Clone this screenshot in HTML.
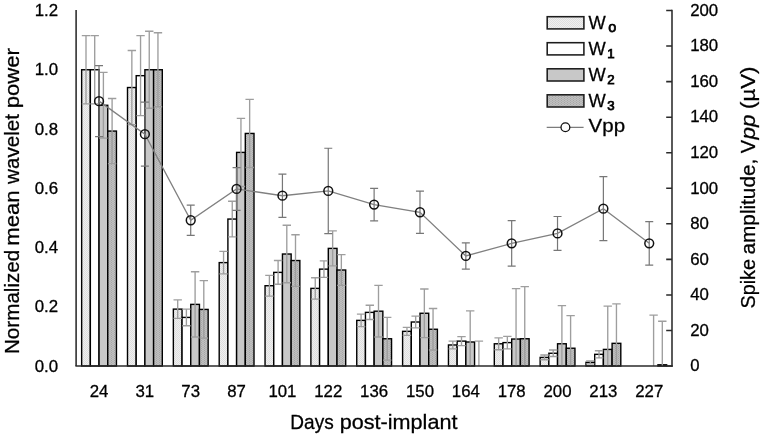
<!DOCTYPE html>
<html lang="en"><head><meta charset="utf-8"><title>Wavelet power and spike amplitude</title>
<style>
html,body{margin:0;padding:0;background:#fff}
body{width:762px;height:434px;overflow:hidden}
svg{display:block;font-family:"Liberation Sans",sans-serif;fill:#000}
text{stroke:#000;stroke-width:0.28px;paint-order:stroke fill}
</style></head><body>
<svg width="762" height="434" viewBox="0 0 762 434">
<defs>
<pattern id="p0" width="2" height="2" patternUnits="userSpaceOnUse"><rect width="2" height="2" fill="#efefef"/><rect width="1" height="1" fill="#dedede"/><rect x="1" y="1" width="1" height="1" fill="#dedede"/></pattern>
<pattern id="p3" width="3" height="2" patternUnits="userSpaceOnUse"><rect width="3" height="2" fill="#bfbfbf"/><rect width="1" height="1" fill="#a6a6a6"/><rect x="1.5" y="1" width="1" height="1" fill="#aaaaaa"/></pattern>
</defs>
<rect width="762" height="434" fill="#fff"/>
<g stroke="#000" stroke-width="1.4">
<rect x="81.65" y="69.75" width="8.70" height="296.25" fill="url(#p0)"/>
<rect x="90.35" y="69.75" width="8.70" height="296.25" fill="#ffffff"/>
<rect x="99.05" y="105.30" width="8.70" height="260.70" fill="#c8c8c8"/>
<rect x="107.75" y="131.07" width="8.70" height="234.93" fill="url(#p3)"/>
<rect x="127.50" y="87.53" width="8.70" height="278.47" fill="url(#p0)"/>
<rect x="136.20" y="75.68" width="8.70" height="290.32" fill="#ffffff"/>
<rect x="144.90" y="69.75" width="8.70" height="296.25" fill="#c8c8c8"/>
<rect x="153.60" y="69.75" width="8.70" height="296.25" fill="url(#p3)"/>
<rect x="173.35" y="309.12" width="8.70" height="56.88" fill="url(#p0)"/>
<rect x="182.05" y="317.42" width="8.70" height="48.59" fill="#ffffff"/>
<rect x="190.75" y="304.38" width="8.70" height="61.62" fill="#c8c8c8"/>
<rect x="199.45" y="309.42" width="8.70" height="56.58" fill="url(#p3)"/>
<rect x="219.20" y="262.61" width="8.70" height="103.39" fill="url(#p0)"/>
<rect x="227.90" y="219.06" width="8.70" height="146.94" fill="#ffffff"/>
<rect x="236.60" y="152.40" width="8.70" height="213.60" fill="#c8c8c8"/>
<rect x="245.30" y="133.44" width="8.70" height="232.56" fill="url(#p3)"/>
<rect x="265.05" y="285.72" width="8.70" height="80.28" fill="url(#p0)"/>
<rect x="273.75" y="272.38" width="8.70" height="93.61" fill="#ffffff"/>
<rect x="282.45" y="254.02" width="8.70" height="111.98" fill="#c8c8c8"/>
<rect x="291.15" y="260.54" width="8.70" height="105.46" fill="url(#p3)"/>
<rect x="310.90" y="288.38" width="8.70" height="77.62" fill="url(#p0)"/>
<rect x="319.60" y="269.13" width="8.70" height="96.87" fill="#ffffff"/>
<rect x="328.30" y="248.39" width="8.70" height="117.61" fill="#c8c8c8"/>
<rect x="337.00" y="270.01" width="8.70" height="95.98" fill="url(#p3)"/>
<rect x="356.75" y="320.38" width="8.70" height="45.62" fill="url(#p0)"/>
<rect x="365.45" y="312.38" width="8.70" height="53.62" fill="#ffffff"/>
<rect x="374.15" y="311.19" width="8.70" height="54.81" fill="#c8c8c8"/>
<rect x="382.85" y="338.75" width="8.70" height="27.25" fill="url(#p3)"/>
<rect x="402.60" y="331.34" width="8.70" height="34.66" fill="url(#p0)"/>
<rect x="411.30" y="322.01" width="8.70" height="43.99" fill="#ffffff"/>
<rect x="420.00" y="313.27" width="8.70" height="52.73" fill="#c8c8c8"/>
<rect x="428.70" y="329.26" width="8.70" height="36.73" fill="url(#p3)"/>
<rect x="448.45" y="344.97" width="8.70" height="21.03" fill="url(#p0)"/>
<rect x="457.15" y="341.12" width="8.70" height="24.89" fill="#ffffff"/>
<rect x="465.85" y="342.00" width="8.70" height="24.00" fill="#c8c8c8"/>
<rect x="494.30" y="343.78" width="8.70" height="22.22" fill="url(#p0)"/>
<rect x="503.00" y="342.60" width="8.70" height="23.40" fill="#ffffff"/>
<rect x="511.70" y="339.04" width="8.70" height="26.96" fill="#c8c8c8"/>
<rect x="520.40" y="338.75" width="8.70" height="27.25" fill="url(#p3)"/>
<rect x="540.15" y="357.41" width="8.70" height="8.59" fill="url(#p0)"/>
<rect x="548.85" y="353.26" width="8.70" height="12.74" fill="#ffffff"/>
<rect x="557.55" y="343.78" width="8.70" height="22.22" fill="#c8c8c8"/>
<rect x="566.25" y="348.23" width="8.70" height="17.77" fill="url(#p3)"/>
<rect x="586.00" y="362.33" width="8.70" height="3.67" fill="url(#p0)"/>
<rect x="594.70" y="354.33" width="8.70" height="11.67" fill="#ffffff"/>
<rect x="603.40" y="349.41" width="8.70" height="16.59" fill="#c8c8c8"/>
<rect x="612.10" y="343.34" width="8.70" height="22.66" fill="url(#p3)"/>
<rect x="657.95" y="364.81" width="8.70" height="1.19" fill="url(#p3)"/>
</g>
<g stroke="#9e9e9e" stroke-width="1.35" fill="none">
<path d="M86.00 35.68V103.82M81.80 35.68h8.4M81.80 103.82h8.4"/>
<path d="M94.70 35.68V103.82M90.50 35.68h8.4M90.50 103.82h8.4"/>
<path d="M103.40 72.42V138.18M99.20 72.42h8.4M99.20 138.18h8.4"/>
<path d="M112.10 98.49V163.66M107.90 98.49h8.4M107.90 163.66h8.4"/>
<path d="M131.85 50.49V124.56M127.65 50.49h8.4M127.65 124.56h8.4"/>
<path d="M140.55 35.68V115.67M136.35 35.68h8.4M136.35 115.67h8.4"/>
<path d="M149.25 31.24V108.26M145.05 31.24h8.4M145.05 108.26h8.4"/>
<path d="M157.95 32.72V106.78M153.75 32.72h8.4M153.75 106.78h8.4"/>
<path d="M177.70 299.94V318.30M173.50 299.94h8.4M173.50 318.30h8.4"/>
<path d="M186.40 309.12V325.71M182.20 309.12h8.4M182.20 325.71h8.4"/>
<path d="M195.10 271.79V336.97M190.90 271.79h8.4M190.90 336.97h8.4"/>
<path d="M203.80 280.68V338.15M199.60 280.68h8.4M199.60 338.15h8.4"/>
<path d="M223.55 251.35V273.87M219.35 251.35h8.4M219.35 273.87h8.4"/>
<path d="M232.25 201.28V236.84M228.05 201.28h8.4M228.05 236.84h8.4"/>
<path d="M240.95 118.34V186.47M236.75 118.34h8.4M236.75 186.47h8.4"/>
<path d="M249.65 99.38V167.51M245.45 99.38h8.4M245.45 167.51h8.4"/>
<path d="M269.40 275.35V296.08M265.20 275.35h8.4M265.20 296.08h8.4"/>
<path d="M278.10 260.54V284.24M273.90 260.54h8.4M273.90 284.24h8.4"/>
<path d="M286.80 225.28V282.75M282.60 225.28h8.4M282.60 282.75h8.4"/>
<path d="M295.50 234.76V286.31M291.30 234.76h8.4M291.30 286.31h8.4"/>
<path d="M315.25 277.72V299.05M311.05 277.72h8.4M311.05 299.05h8.4"/>
<path d="M323.95 260.83V277.42M319.75 260.83h8.4M319.75 277.42h8.4"/>
<path d="M332.65 230.91V265.87M328.45 230.91h8.4M328.45 265.87h8.4"/>
<path d="M341.35 254.61V285.42M337.15 254.61h8.4M337.15 285.42h8.4"/>
<path d="M361.10 314.16V326.60M356.90 314.16h8.4M356.90 326.60h8.4"/>
<path d="M369.80 305.27V319.49M365.60 305.27h8.4M365.60 319.49h8.4"/>
<path d="M378.50 285.42V336.97M374.30 285.42h8.4M374.30 336.97h8.4"/>
<path d="M387.20 317.42V360.07M383.00 317.42h8.4M383.00 360.07h8.4"/>
<path d="M406.95 327.34V335.34M402.75 327.34h8.4M402.75 335.34h8.4"/>
<path d="M415.65 316.08V327.93M411.45 316.08h8.4M411.45 327.93h8.4"/>
<path d="M424.35 288.98V337.56M420.15 288.98h8.4M420.15 337.56h8.4"/>
<path d="M433.05 308.53V350.00M428.85 308.53h8.4M428.85 350.00h8.4"/>
<path d="M452.80 341.12V348.82M448.60 341.12h8.4M448.60 348.82h8.4"/>
<path d="M461.50 336.67V345.56M457.30 336.67h8.4M457.30 345.56h8.4"/>
<path d="M470.20 310.90V366.00M466.00 310.90h8.4"/>
<path d="M478.90 341.12V366.00M474.70 341.12h8.4"/>
<path d="M498.65 337.86V349.71M494.45 337.86h8.4M494.45 349.71h8.4"/>
<path d="M507.35 336.38V348.82M503.15 336.38h8.4M503.15 348.82h8.4"/>
<path d="M516.05 288.68V366.00M511.85 288.68h8.4"/>
<path d="M524.75 286.61V366.00M520.55 286.61h8.4"/>
<path d="M544.50 355.04V359.78M540.30 355.04h8.4M540.30 359.78h8.4"/>
<path d="M553.20 350.00V356.52M549.00 350.00h8.4M549.00 356.52h8.4"/>
<path d="M561.90 305.56V366.00M557.70 305.56h8.4"/>
<path d="M570.60 315.64V366.00M566.40 315.64h8.4"/>
<path d="M590.35 360.85V363.81M586.15 360.85h8.4M586.15 363.81h8.4"/>
<path d="M599.05 350.77V357.88M594.85 350.77h8.4M594.85 357.88h8.4"/>
<path d="M607.75 306.16V366.00M603.55 306.16h8.4"/>
<path d="M616.45 303.94V366.00M612.25 303.94h8.4"/>
<path d="M653.60 315.05V366.00M649.40 315.05h8.4"/>
<path d="M662.30 321.27V366.00M658.10 321.27h8.4"/>
</g>
<g stroke="#2a2a2a" stroke-width="1.55" fill="none">
<path d="M76.1 10.0V366.0"/>
<path d="M75.39999999999999 366.0H672.9"/>
<path d="M672.0 9.75V366.75"/>
<path d="M666.2 366.00H672.0M666.2 330.45H672.0M666.2 294.90H672.0M666.2 259.35H672.0M666.2 223.80H672.0M666.2 188.25H672.0M666.2 152.70H672.0M666.2 117.15H672.0M666.2 81.60H672.0M666.2 46.05H672.0M666.2 10.50H672.0"/>
</g>
<g stroke="#777" stroke-width="1.2" fill="none">
<path stroke-width="1.9" d="M98.92 70.35V97.15"/>
<path d="M99.02 65.60V136.70M95.02 65.60h8M95.02 136.70h8"/>
<path d="M144.88 102.22V166.21M140.88 102.22h8M140.88 166.21h8"/>
<path d="M190.72 205.14V235.35M186.72 205.14h8M186.72 235.35h8"/>
<path d="M236.57 167.63V210.29M232.57 167.63h8M232.57 210.29h8"/>
<path d="M282.43 174.03V217.40M278.43 174.03h8M278.43 217.40h8"/>
<path d="M328.27 148.26V233.58M324.27 148.26h8M324.27 233.58h8"/>
<path d="M374.12 188.43V220.78M370.12 188.43h8M370.12 220.78h8"/>
<path d="M419.98 191.09V233.40M415.98 191.09h8M415.98 233.40h8"/>
<path d="M465.83 242.82V269.13M461.83 242.82h8M461.83 269.13h8"/>
<path d="M511.67 220.60V266.10M507.67 220.60h8M507.67 266.10h8"/>
<path d="M557.52 216.51V250.28M553.52 216.51h8M553.52 250.28h8"/>
<path d="M603.38 176.70V240.69M599.38 176.70h8M599.38 240.69h8"/>
<path d="M649.23 221.67V265.04M645.23 221.67h8M645.23 265.04h8"/>
</g>
<polyline fill="none" stroke="#808080" stroke-width="1.3" points="99.02,101.15 144.88,134.21 190.72,220.25 236.57,188.96 282.43,195.72 328.27,190.92 374.12,204.60 419.98,212.25 465.83,255.97 511.67,243.35 557.52,233.40 603.38,208.69 649.23,243.35"/>
<g fill="none" stroke="#111" stroke-width="1.5">
<circle cx="99.02" cy="101.15" r="4.4"/>
<circle cx="144.88" cy="134.21" r="4.4"/>
<circle cx="190.72" cy="220.25" r="4.4"/>
<circle cx="236.57" cy="188.96" r="4.4"/>
<circle cx="282.43" cy="195.72" r="4.4"/>
<circle cx="328.27" cy="190.92" r="4.4"/>
<circle cx="374.12" cy="204.60" r="4.4"/>
<circle cx="419.98" cy="212.25" r="4.4"/>
<circle cx="465.83" cy="255.97" r="4.4"/>
<circle cx="511.67" cy="243.35" r="4.4"/>
<circle cx="557.52" cy="233.40" r="4.4"/>
<circle cx="603.38" cy="208.69" r="4.4"/>
<circle cx="649.23" cy="243.35" r="4.4"/>
</g>
<g font-size="15.8" text-anchor="end">
<text x="58.1" y="371.65" textLength="23.4" lengthAdjust="spacingAndGlyphs">0.0</text>
<text x="58.1" y="312.40" textLength="23.4" lengthAdjust="spacingAndGlyphs">0.2</text>
<text x="58.1" y="253.15" textLength="23.4" lengthAdjust="spacingAndGlyphs">0.4</text>
<text x="58.1" y="193.90" textLength="23.4" lengthAdjust="spacingAndGlyphs">0.6</text>
<text x="58.1" y="134.65" textLength="23.4" lengthAdjust="spacingAndGlyphs">0.8</text>
<text x="58.1" y="75.40" textLength="23.4" lengthAdjust="spacingAndGlyphs">1.0</text>
<text x="58.1" y="16.15" textLength="23.4" lengthAdjust="spacingAndGlyphs">1.2</text>
</g>
<g font-size="15.8" text-anchor="start">
<text x="690.2" y="371.30" textLength="9.3" lengthAdjust="spacingAndGlyphs">0</text>
<text x="690.2" y="335.75" textLength="18.7" lengthAdjust="spacingAndGlyphs">20</text>
<text x="690.2" y="300.20" textLength="18.7" lengthAdjust="spacingAndGlyphs">40</text>
<text x="690.2" y="264.65" textLength="18.7" lengthAdjust="spacingAndGlyphs">60</text>
<text x="690.2" y="229.10" textLength="18.7" lengthAdjust="spacingAndGlyphs">80</text>
<text x="690.2" y="193.55" textLength="28.0" lengthAdjust="spacingAndGlyphs">100</text>
<text x="690.2" y="158.00" textLength="28.0" lengthAdjust="spacingAndGlyphs">120</text>
<text x="690.2" y="122.45" textLength="28.0" lengthAdjust="spacingAndGlyphs">140</text>
<text x="690.2" y="86.90" textLength="28.0" lengthAdjust="spacingAndGlyphs">160</text>
<text x="690.2" y="51.35" textLength="28.0" lengthAdjust="spacingAndGlyphs">180</text>
<text x="690.2" y="15.80" textLength="28.0" lengthAdjust="spacingAndGlyphs">200</text>
</g>
<g font-size="15.8" text-anchor="middle">
<text x="99.02" y="396.6" textLength="18.7" lengthAdjust="spacingAndGlyphs">24</text>
<text x="144.88" y="396.6" textLength="18.7" lengthAdjust="spacingAndGlyphs">31</text>
<text x="190.72" y="396.6" textLength="18.7" lengthAdjust="spacingAndGlyphs">73</text>
<text x="236.57" y="396.6" textLength="18.7" lengthAdjust="spacingAndGlyphs">87</text>
<text x="282.43" y="396.6" textLength="28.0" lengthAdjust="spacingAndGlyphs">101</text>
<text x="328.27" y="396.6" textLength="28.0" lengthAdjust="spacingAndGlyphs">122</text>
<text x="374.12" y="396.6" textLength="28.0" lengthAdjust="spacingAndGlyphs">136</text>
<text x="419.98" y="396.6" textLength="28.0" lengthAdjust="spacingAndGlyphs">150</text>
<text x="465.83" y="396.6" textLength="28.0" lengthAdjust="spacingAndGlyphs">164</text>
<text x="511.67" y="396.6" textLength="28.0" lengthAdjust="spacingAndGlyphs">178</text>
<text x="557.52" y="396.6" textLength="28.0" lengthAdjust="spacingAndGlyphs">200</text>
<text x="603.38" y="396.6" textLength="28.0" lengthAdjust="spacingAndGlyphs">213</text>
<text x="649.23" y="396.6" textLength="28.0" lengthAdjust="spacingAndGlyphs">227</text>
</g>
<text x="290.34" y="428.90" font-size="20.2" textLength="43.35" lengthAdjust="spacingAndGlyphs">Days</text>
<text x="339.72" y="428.90" font-size="20.2" textLength="117.73" lengthAdjust="spacingAndGlyphs">post-implant</text>
<g transform="translate(19.0 352.4) rotate(-90)">
<text x="-1.69" y="0.00" font-size="20.2" textLength="104.42" lengthAdjust="spacingAndGlyphs">Normalized</text>
<text x="106.64" y="0.00" font-size="20.2" textLength="55.28" lengthAdjust="spacingAndGlyphs">mean</text>
<text x="168.50" y="0.00" font-size="20.2" textLength="69.80" lengthAdjust="spacingAndGlyphs">wavelet</text>
<text x="244.19" y="0.00" font-size="20.2" textLength="60.16" lengthAdjust="spacingAndGlyphs">power</text>
</g>
<g transform="translate(754.9 307.7) rotate(-90)">
<text x="-0.89" y="0.00" font-size="20.2" textLength="49.57" lengthAdjust="spacingAndGlyphs">Spike</text>
<text x="53.23" y="0.00" font-size="20.2" textLength="95.73" lengthAdjust="spacingAndGlyphs">amplitude,</text>
<text x="154.52" y="0.00" font-size="20.2" textLength="13.36" lengthAdjust="spacingAndGlyphs">V</text>
<text x="168.30" y="0.00" font-size="20.2" font-style="italic" textLength="25.06" lengthAdjust="spacingAndGlyphs">pp</text>
<text x="198.82" y="0.00" font-size="20.2" textLength="42.36" lengthAdjust="spacingAndGlyphs">(µV)</text>
</g>
<rect x="547.2" y="16.7" width="36.7" height="12.2" fill="url(#p0)" stroke="#1c1c1c" stroke-width="1.55"/>
<text x="588.43" y="29.00" font-size="18.3" textLength="17.22" lengthAdjust="spacingAndGlyphs">W</text>
<text x="608.3" y="31.6" font-size="14.4" style="stroke-width:0.75px">o</text>
<rect x="547.2" y="42.7" width="36.7" height="12.2" fill="#ffffff" stroke="#1c1c1c" stroke-width="1.55"/>
<text x="588.43" y="55.00" font-size="18.3" textLength="17.22" lengthAdjust="spacingAndGlyphs">W</text>
<text x="607.3" y="57.9" font-size="13.3" style="stroke-width:0.75px">1</text>
<rect x="547.2" y="68.8" width="36.7" height="12.2" fill="#c8c8c8" stroke="#1c1c1c" stroke-width="1.55"/>
<text x="588.43" y="81.10" font-size="18.3" textLength="17.22" lengthAdjust="spacingAndGlyphs">W</text>
<text x="607.3" y="84.0" font-size="13.3" style="stroke-width:0.75px">2</text>
<rect x="547.2" y="94.8" width="36.7" height="12.2" fill="url(#p3)" stroke="#1c1c1c" stroke-width="1.55"/>
<text x="588.43" y="107.10" font-size="18.3" textLength="17.22" lengthAdjust="spacingAndGlyphs">W</text>
<text x="607.3" y="110.0" font-size="13.3" style="stroke-width:0.75px">3</text>
<path d="M546.7 127.3H583.6" stroke="#7c7c7c" stroke-width="1.3" fill="none"/>
<circle cx="565.4" cy="127.3" r="4.4" fill="#fff" stroke="#111" stroke-width="1.3"/>
<text x="588.62" y="132.30" font-size="18.3" textLength="36.43" lengthAdjust="spacingAndGlyphs">Vpp</text>
</svg></body></html>
